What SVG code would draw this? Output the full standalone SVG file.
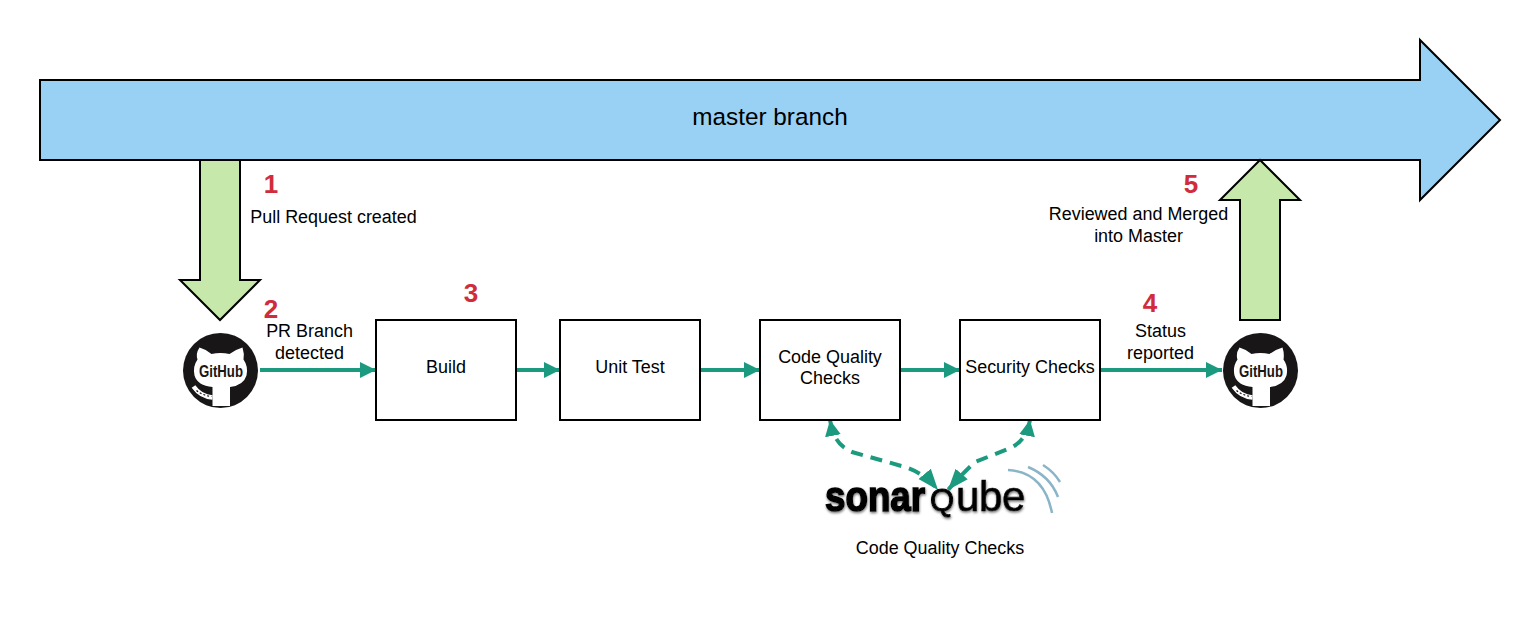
<svg xmlns="http://www.w3.org/2000/svg" width="1540" height="620" viewBox="0 0 1540 620">
<style>
text{font-family:"Liberation Sans",Arial,sans-serif;fill:#000;text-anchor:middle}
.l{font-size:17.950px}
.n{font-size:26px;font-weight:bold;fill:#d02c3c}
.box{fill:#fff;stroke:#000;stroke-width:2}
.big{stroke:#000;stroke-width:2;stroke-linejoin:miter}
.c{fill:none;stroke:#1b9a7f;stroke-width:4}
.d{stroke-dasharray:12 8}
.w{fill:#fff}
.arc{fill:none;stroke:#8ab5c9;stroke-width:2.500}
.logo{font-size:42px;text-anchor:start;stroke:#000}
</style>
<defs>
<marker id="a" markerUnits="userSpaceOnUse" markerWidth="20" markerHeight="18" refX="16" refY="9" orient="auto-start-reverse"><path d="M0 1L16 9L0 17Z" fill="#1b9a7f"/></marker>
<marker id="b" markerUnits="userSpaceOnUse" markerWidth="24" markerHeight="20" refX="21" refY="10" orient="auto-start-reverse"><path d="M0 2L21 10L0 18Z" fill="#1b9a7f"/></marker>
<filter id="s" x="-5%" y="-10%" width="110%" height="130%"><feDropShadow dx="0.500" dy="1.500" stdDeviation="1" flood-color="#777"/></filter>
<g id="gh">
<circle cx="0" cy="0" r="37.500" fill="#181616"/>
<path class="w" d="M-21 -23Q-14 -21 -9 -16.500Q0 -18.500 9 -16.500Q15 -21 22 -23Q24 -17 23 -11Q28 -4 26 5Q23 15 9.500 16.500L9.500 35.500L-8 35.500L-8 16.500Q-23 15 -26 5Q-28 -4 -23 -11Q-25 -17 -21 -23Z"/>
<path d="M-27 16Q-20 26 -8 27" fill="none" stroke="#fff" stroke-width="4.500"/>
<path d="M-24 20Q-18 25 -9 26" fill="none" stroke="#181616" stroke-width="1.200" stroke-dasharray="2 2"/>
<text x="0.500" y="6" textLength="44" lengthAdjust="spacingAndGlyphs" style="font-size:16.500px;font-weight:bold;fill:#181616">GitHub</text>
</g>
</defs>
<g id="master-branch">
<polygon class="big" fill="#99d1f5" points="40,80 1420,80 1420,40 1500,120 1420,200 1420,160 40,160"/>
<text x="770" y="125" style="font-size:24.300px">master branch</text>
</g>
<g id="pr-arrow">
<polygon class="big" fill="#c6e9ab" points="200,160 240,160 240,280 260,280 220,320 180,280 200,280"/>
</g>
<g id="merge-arrow">
<polygon class="big" fill="#c6e9ab" points="1240,320 1280,320 1280,200 1300,200 1260,160 1220,200 1240,200"/>
</g>
<g id="connectors">
<path class="c" marker-end="url(#a)" d="M260 370H376"/>
<path class="c" marker-end="url(#a)" d="M516 370H560"/>
<path class="c" marker-end="url(#a)" d="M700 370H760"/>
<path class="c" marker-end="url(#a)" d="M900 370H960"/>
<path class="c" marker-end="url(#a)" d="M1100 370H1222"/>
<path class="c d" marker-start="url(#a)" marker-end="url(#b)" d="M830 420C833 436 838 446 852 452L905 467Q924 473 938 490"/>
<path class="c d" marker-start="url(#a)" marker-end="url(#b)" d="M1030 420C1027 436 1020 444 1008 449L975 462Q960 476 948 490"/>
</g>
<g id="github-left"><use href="#gh" x="220.500" y="370.500"/></g>
<g id="build"><rect class="box" x="376" y="320" width="140" height="100"/><text class="l" x="446" y="373">Build</text></g>
<g id="unit-test"><rect class="box" x="560" y="320" width="140" height="100"/><text class="l" x="630" y="373">Unit Test</text></g>
<g id="code-quality"><rect class="box" x="760" y="320" width="140" height="100"/><text class="l" x="830" y="363">Code Quality</text><text class="l" x="830" y="384">Checks</text></g>
<g id="security"><rect class="box" x="960" y="320" width="140" height="100"/><text class="l" x="1030" y="373">Security Checks</text></g>
<g id="github-right"><use href="#gh" x="1260.500" y="370.500"/></g>
<g id="sonarqube">
<g filter="url(#s)">
<text class="logo" transform="translate(825 511) scale(.875 1)" style="font-weight:bold;stroke-width:1.600">sonar</text>
<text class="logo" x="930" y="511" style="font-size:31px;stroke-width:1">Q</text>
<text class="logo" x="956" y="511" style="stroke-width:.7;letter-spacing:-.3px">ube</text>
</g>
<path class="arc" d="M1008 470Q1044 472 1052 513"/>
<path class="arc" d="M1028 467Q1050 476 1058 497"/>
<path class="arc" d="M1043 465Q1054 472 1060 482"/>
</g>
<g id="labels">
<text class="n" x="271" y="193">1</text>
<text class="l" x="333.500" y="223">Pull Request created</text>
<text class="n" x="271" y="318">2</text>
<text class="l" x="309.500" y="337">PR Branch</text>
<text class="l" x="309.500" y="359">detected</text>
<text class="n" x="471" y="302">3</text>
<text class="n" x="1150" y="312">4</text>
<text class="l" x="1160.500" y="337">Status</text>
<text class="l" x="1160.500" y="359">reported</text>
<text class="n" x="1191" y="193">5</text>
<text class="l" x="1138.500" y="220">Reviewed and Merged</text>
<text class="l" x="1138.500" y="242">into Master</text>
<text class="l" x="940" y="553.500">Code Quality Checks</text>
</g>
</svg>
